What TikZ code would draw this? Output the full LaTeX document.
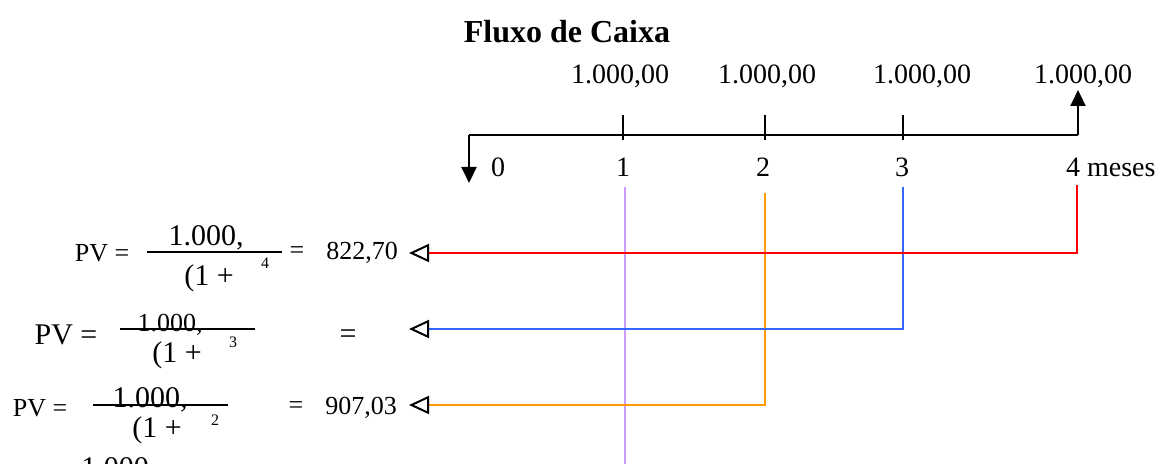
\documentclass[tikz,border=0pt]{standalone}
\usepackage{fontspec}
\setmainfont{Liberation Serif}
\usetikzlibrary{arrows.meta}

\definecolor{lilas}{RGB}{204,153,255}
\definecolor{laranja}{RGB}{255,153,0}
\definecolor{azul}{RGB}{51,102,255}

\tikzset{
  eixo/.style={line width=1pt},
  seta/.style={line width=1pt, -{Triangle[length=8pt,width=7.5pt]}},
  volta/.style={line width=1pt, -{Triangle[open,color=black,length=10pt,width=9pt,line width=1pt]}},
  titulo/.style={font=\fontsize{16}{18}\selectfont\bfseries},
  valor/.style={font=\fontsize{14}{16}\selectfont},
  pv/.style={font=\fontsize{13}{15}\selectfont},
  frac/.style={font=\fontsize{15}{17}\selectfont},
  expo/.style={font=\fontsize{8}{9}\selectfont}
}

\begin{document}
\begin{tikzpicture}[x=0.5pt, y=-0.5pt]
      \useasboundingbox (0,0) rectangle (1165,464);
      % eixo do tempo
      \coordinate (t0) at (469,135);
      \coordinate (t1) at (623,135);
      \coordinate (t2) at (765,135);
      \coordinate (t3) at (903,135);
      \coordinate (t4) at (1078,135);
      \coordinate (saida) at (469,183);
      \coordinate (entrada) at (1078,90);
      \draw[eixo] (t0) -- (t4);
      \foreach \t in {t1,t2,t3}
        \draw[eixo] (\t) ++(0,-20) -- ++(0,25);
      \draw[seta] (t0) -- (saida);
      \draw[seta] (t4) -- (entrada);
      \node[titulo] (tit) at (567,32) {Fluxo de Caixa};
      \node[valor] (v1) at (620,76) {1.000,00};
      \node[valor] (v2) at (767,76) {1.000,00};
      \node[valor] (v3) at (922,76) {1.000,00};
      \node[valor] (v4) at (1083,76) {1.000,00};
      \node[valor] (m0) at (498,167) {0};
      \node[valor] (m1) at (623,167) {1};
      \node[valor] (m2) at (763,167) {2};
      \node[valor] (m3) at (902,167) {3};
      \node[valor, anchor=west] (m4) at (1059,167) {4 meses};
      % linhas de desconto
      \coordinate (pv4) at (409,253);
      \coordinate (pv3) at (409,329);
      \coordinate (pv2) at (409,405);
      \draw[lilas, line width=1pt] (625,187) -- (625,470);
      \draw[volta, laranja] (765,193) |- (pv2);
      \draw[volta, azul] (903,187) |- (pv3);
      \draw[volta, red] (1077,185) |- (pv4);
      % formulas
      \node[pv] (pa) at (102,253) {PV =};
      \draw[eixo] (147,252) -- (282,252);
      \node[frac] (na) at (206,238) {1.000,};
      \node[frac] (da) at (209,278) {(1 +};
      \node[expo] (ea) at (265,263) {4};
      \node[pv] (ia) at (297,253) {=};
      \node[pv] (ra) at (362,253) {822,70};
      \node[frac] (pb) at (66,335) {PV =};
      \draw[eixo] (120,329) -- (255,329);
      \node[pv] (nb) at (170,325) {1.000,};
      \node[frac] (db) at (177,355) {(1 +};
      \node[expo] (eb) at (233,342) {3};
      \node[frac] (ib) at (348,337) {=};
      \node[pv] (pc) at (40,408) {PV =};
      \draw[eixo] (93,405) -- (228,405);
      \node[frac] (nc) at (150,400) {1.000,};
      \node[frac] (dc) at (157,430) {(1 +};
      \node[expo] (ec) at (215,420) {2};
      \node[pv] (ic) at (296,408) {=};
      \node[pv] (rc) at (361,408) {907,03};
      \node[frac] (nd) at (115,468) {1.000};
    \end{tikzpicture}
\end{document}
